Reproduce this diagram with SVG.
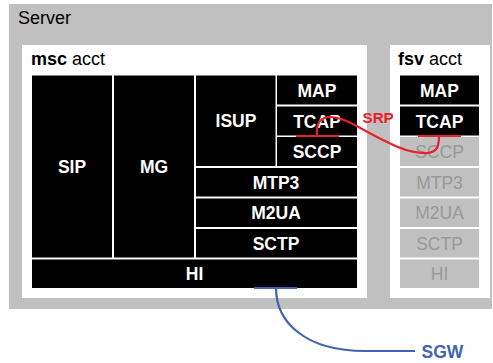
<svg xmlns="http://www.w3.org/2000/svg" width="493" height="363" viewBox="0 0 493 363">
<style>
text{font-family:"Liberation Sans",Arial,sans-serif}
.blk{fill:#000}
.gry{fill:#c0c0c0}
.wt{fill:#fff;font-size:17.5px;font-weight:bold;text-anchor:middle}
.gt{fill:#999;font-size:17.5px;text-anchor:middle}
.lbl{fill:#000;font-size:18px}
</style>
<rect width="493" height="363" fill="#fff"/>
<g id="server">
<rect x="9" y="4" width="483" height="305" fill="#c0c0c0"/>
<text x="18" y="24" class="lbl">Server</text>
</g>
<g id="msc">
<rect x="22" y="45" width="345" height="253" fill="#fff"/>
<text x="31" y="65" class="lbl"><tspan font-weight="bold">msc</tspan> acct</text>
</g>
<g id="fsv">
<rect x="390" y="45" width="100" height="253" fill="#fff"/>
<text x="398" y="65" class="lbl"><tspan font-weight="bold">fsv</tspan> acct</text>
</g>
<g id="msc-SIP"><rect class="blk" x="32" y="75.5" width="80" height="182"/><text class="wt" x="72" y="173">SIP</text></g>
<g id="msc-MG"><rect class="blk" x="114" y="75.5" width="80" height="182"/><text class="wt" x="154" y="173">MG</text></g>
<g id="msc-ISUP"><rect class="blk" x="196" y="75.5" width="79.5" height="90.5"/><text class="wt" x="236" y="127">ISUP</text></g>
<g id="msc-MAP"><rect class="blk" x="277" y="75.5" width="80" height="29"/><text class="wt" x="317" y="96.5">MAP</text></g>
<g id="msc-TCAP"><rect class="blk" x="277" y="106.5" width="80" height="29"/><text class="wt" x="317" y="127.5">TCAP</text></g>
<g id="msc-SCCP"><rect class="blk" x="277" y="137" width="80" height="29"/><text class="wt" x="317" y="158">SCCP</text></g>
<g id="msc-MTP3"><rect class="blk" x="196" y="168" width="161" height="28.5"/><text class="wt" x="276" y="188.5">MTP3</text></g>
<g id="msc-M2UA"><rect class="blk" x="196" y="198.5" width="161" height="28.5"/><text class="wt" x="276" y="219">M2UA</text></g>
<g id="msc-SCTP"><rect class="blk" x="196" y="229" width="161" height="28.5"/><text class="wt" x="276" y="249.5">SCTP</text></g>
<g id="msc-HI"><rect class="blk" x="32" y="259.5" width="325" height="28.5"/><text class="wt" x="194.5" y="280">HI</text></g>
<g id="fsv-MAP"><rect class="blk" x="400" y="75.5" width="79" height="29"/><text class="wt" x="439.5" y="96.5">MAP</text></g>
<g id="fsv-TCAP"><rect class="blk" x="400" y="106.5" width="79" height="29"/><text class="wt" x="439.5" y="127.5">TCAP</text></g>
<g id="fsv-SCCP"><rect class="gry" x="400" y="137" width="79" height="29"/><text class="gt" x="439.5" y="158">SCCP</text></g>
<g id="fsv-MTP3"><rect class="gry" x="400" y="168" width="79" height="28.5"/><text class="gt" x="439.5" y="188.5">MTP3</text></g>
<g id="fsv-M2UA"><rect class="gry" x="400" y="198.5" width="79" height="28.5"/><text class="gt" x="439.5" y="219">M2UA</text></g>
<g id="fsv-SCTP"><rect class="gry" x="400" y="229" width="79" height="28.5"/><text class="gt" x="439.5" y="249.5">SCTP</text></g>
<g id="fsv-HI"><rect class="gry" x="400" y="259.5" width="79" height="28.5"/><text class="gt" x="439.5" y="280">HI</text></g>
<g id="connectors" fill="none" stroke-width="2.2">
<g stroke="#e8212b">
<path d="M296,136 H339"/>
<path d="M418,136 H461"/>
<path d="M317,136 C316,124 320,117 330,117 C345,117 362,130 385,141 C400,149 415,154 428,153 C437,152 439,146 439,136"/>
</g>
<g stroke="#4263b2">
<path d="M254,288 H297"/>
<path d="M276,288 C276,322 305,351 365,351 L415,351"/>
</g>
</g>
<text x="362.5" y="123" fill="#e8212b" font-size="15.2" font-weight="bold">SRP</text>
<text x="421.5" y="357.5" fill="#4263b2" font-size="17.5" font-weight="bold">SGW</text>
</svg>
